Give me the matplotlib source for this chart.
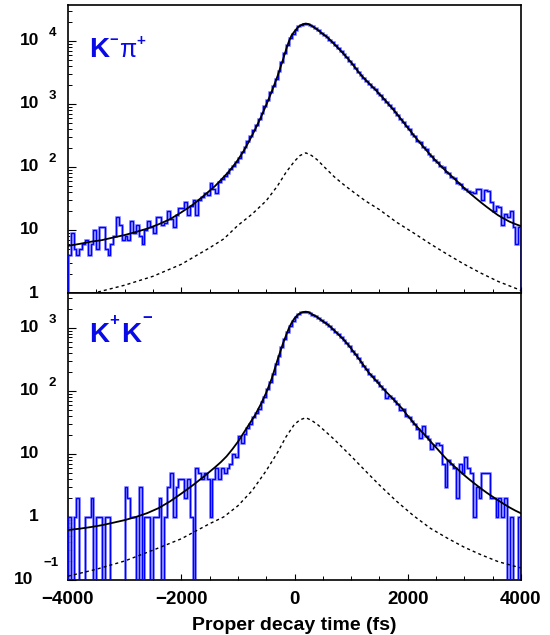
import numpy as np
import matplotlib
matplotlib.use("Agg")
import matplotlib.pyplot as plt
from matplotlib import transforms
from matplotlib.ticker import FixedLocator, LogLocator, NullFormatter

plt.rcParams['font.family'] = ['Liberation Sans', 'DejaVu Sans']

# ---------------- data ----------------
T_MIN, T_MAX, N_BINS = -4000, 4000, 160

kpi_counts = [
    4, 9, 5, 4, 5, 6, 7, 4, 6, 10,
    5, 11, 11, 5, 4, 6, 8, 16, 12, 7,
    8, 7, 14, 9, 12, 8, 6, 10, 14, 11,
    9, 16, 16, 12, 13, 20, 15, 11, 17, 22,
    22, 28, 17, 24, 30, 17, 30, 33, 38, 36,
    56, 45, 38, 57, 65, 73, 80, 93, 104, 120,
    137, 172, 208, 260, 314, 392, 465, 580, 705, 915,
    1170, 1515, 1900, 2460, 3300, 4690, 6450, 8700, 10950, 12900,
    15100, 17000, 18150, 18700, 18600, 17800, 16950, 15700, 14600, 13500,
    12300, 11450, 10480, 9420, 8520, 7650, 6850, 6080, 5440, 4830,
    4280, 3710, 3250, 2870, 2580, 2280, 2100, 1850, 1690, 1500,
    1360, 1210, 1090, 950, 860, 740, 670, 575, 515, 440,
    395, 338, 308, 262, 245, 205, 190, 160, 150, 128,
    121, 103, 98, 84, 80, 69, 66, 56, 54, 47,
    44, 42, 40, 39, 45, 44, 30, 43, 42, 28,
    20, 24, 23, 12, 18, 16, 20, 11, 6, 11,
]

kk_counts = [
    1, 0, 1, 2, 0, 0, 1, 1, 2, 0,
    1, 1, 0, 1, 1, 0, 0, 0, 0, 0,
    3, 2, 1, 1, 0, 3, 0, 1, 1, 0,
    1, 1, 2, 0, 1, 3, 5, 1, 3, 4,
    4, 2, 4, 1, 0, 6, 5, 4, 5, 4,
    1, 4, 6, 4, 6, 5, 6, 7, 10, 9,
    19, 15, 21, 26, 30, 38, 45, 52, 66, 80,
    106, 140, 184, 262, 360, 492, 655, 855, 1065, 1295,
    1475, 1640, 1745, 1785, 1775, 1705, 1595, 1515, 1425, 1330,
    1215, 1140, 1045, 960, 865, 790, 700, 640, 565, 505,
    432, 385, 328, 290, 246, 222, 186, 170, 148, 136,
    117, 108, 78, 82, 77, 70, 61, 50, 51, 40,
    38, 33, 30, 25, 18, 28, 19, 17, 12, 14,
    15, 14, 7, 3, 8, 7, 6, 2, 7, 5,
    9, 6, 5, 1, 3, 2, 5, 5, 5, 2,
    2, 1, 2, 1, 2, 0, 1, 0, 0, 1,
]

fit_t_kpi = [-4000, -3800, -3600, -3400, -3200, -3000, -2800, -2600, -2400, -2200,
             -2000, -1800, -1600, -1400, -1300, -1200, -1100, -1000, -900, -800,
             -700, -600, -500, -400, -300, -200, -150, -100, -50, 0,
             50, 100, 150, 200, 250, 300, 400, 500, 600, 700,
             800, 900, 1000, 1100, 1200, 1300, 1400, 1500, 1600, 1700,
             1800, 1900, 2000, 2100, 2200, 2300, 2400, 2500, 2600, 2700,
             2800, 2900, 3000, 3100, 3200, 3300, 3400, 3500, 3600, 3700,
             3800, 3900, 4000]
fit_kpi = [5.6, 6.0, 6.5, 6.9, 7.6, 8.3, 9.3, 10.5, 12.3, 14.8,
           19, 25, 35, 50, 62, 77, 98, 129, 178, 257,
           385, 596, 955, 1585, 2750, 5130, 7200, 9770, 12300, 14100,
           16000, 17500, 18400, 18800, 18400, 17400, 15100, 12900, 11000, 8900,
           7200, 5750, 4570, 3470, 2700, 2190, 1780, 1430, 1150, 900,
           710, 545, 417, 324, 251, 197, 155, 124, 100, 82,
           68, 56, 46, 38, 32, 27, 23, 19.7, 17, 15.1,
           13.5, 12.4, 11.5]

bkg_t_kpi = [-4000, -3500, -3000, -2500, -2000, -1500, -1250, -1000, -750, -500,
             -300, -150, 0, 100, 200, 300, 400, 550, 700, 850,
             1000, 1250, 1500, 1800, 2100, 2400, 2700, 3000, 3300, 3600, 4000]
bkg_kpi = [0.82, 1.02, 1.33, 1.84, 2.85, 5.2, 7.2, 11.8, 17.8, 29,
           50, 82, 123, 152, 167, 152, 130, 95, 70, 54,
           42.5, 29, 21, 13.3, 9, 6, 4.1, 2.85, 2.05, 1.52, 1.1]

fit_t_kk = [-4000, -3800, -3600, -3400, -3200, -3000, -2800, -2600, -2400, -2200,
            -2000, -1800, -1600, -1400, -1300, -1200, -1100, -1000, -900, -800,
            -700, -600, -500, -400, -300, -200, -100, -50, 0, 50,
            100, 150, 200, 250, 300, 400, 500, 600, 700, 800,
            900, 1000, 1100, 1200, 1300, 1400, 1500, 1600, 1700, 1800,
            1900, 2000, 2100, 2200, 2300, 2400, 2500, 2600, 2700, 2800,
            2900, 3000, 3100, 3200, 3300, 3400, 3500, 3600, 3700, 3800,
            3900, 4000]
fit_kk = [0.62, 0.65, 0.69, 0.74, 0.81, 0.89, 1.0, 1.15, 1.38, 1.76,
          2.34, 3.16, 4.37, 6.17, 7.41, 9.12, 11.75, 15.5, 21.4, 29.5,
          40.7, 60, 93, 158, 309, 575, 980, 1200, 1410, 1580,
          1700, 1770, 1795, 1760, 1660, 1480, 1260, 1100, 912, 741,
          603, 468, 355, 269, 200, 158, 126, 100, 81, 65,
          52.5, 40, 31.3, 24.8, 20, 15.8, 12.6, 10, 8.0, 6.6,
          5.5, 4.57, 3.85, 3.27, 2.79, 2.4, 2.09, 1.82, 1.6, 1.41,
          1.26, 1.14]

bkg_t_kk = [-4000, -3500, -3000, -2500, -2000, -1500, -1250, -1000, -750, -500,
            -300, -150, 0, 100, 200, 300, 400, 550, 700, 850,
            1000, 1250, 1500, 1800, 2100, 2400, 2700, 3000, 3300, 3600, 4000]
bkg_kk = [0.115, 0.148, 0.2, 0.297, 0.45, 0.78, 1.0, 1.5, 2.6, 5.4,
          10.5, 18.6, 29.5, 34.7, 37.4, 34, 29.5, 22.5, 17, 12.5,
          9.2, 5.4, 3.2, 1.78, 1.05, 0.66, 0.46, 0.33, 0.25, 0.195, 0.155]

x_major = [-4000, -2000, 0, 2000, 4000]
x_major_labels = ['\u22124000', '\u22122000', '0', '2000', '4000']
x_minor = [-3500, -3000, -2500, -1500, -1000, -500, 500, 1000, 1500, 2500, 3000, 3500]

y_top_lim = (1, 3.7e4)
y_bot_lim = (0.1, 3550)
y_top_decades = [1, 10, 100, 1000, 10000]
y_top_labels = [('1', ''), ('10', ''), ('10', '2'), ('10', '3'), ('10', '4')]
y_bot_decades = [0.1, 1, 10, 100, 1000]
y_bot_labels = [('10', '\u22121'), ('1', ''), ('10', ''), ('10', '2'), ('10', '3')]

xlabel = 'Proper decay time (fs)'

# ---------------- figure ----------------
W, H = 550, 635
fig = plt.figure(figsize=(W / 100, H / 100), dpi=100)


def rect(l, t, r, b):
    return [l / W, 1 - b / H, (r - l) / W, (b - t) / H]


ax1 = fig.add_axes(rect(68, 5, 521, 293))
ax2 = fig.add_axes(rect(68, 293, 521, 580))

edges = np.linspace(T_MIN, T_MAX, N_BINS + 1)
BLUE = '#0000ff'
TXT_BLUE = '#0a0ae6'

panels = [
    (ax1, kpi_counts, fit_t_kpi, fit_kpi, bkg_t_kpi, bkg_kpi, y_top_lim, y_top_decades, y_top_labels),
    (ax2, kk_counts, fit_t_kk, fit_kk, bkg_t_kk, bkg_kk, y_bot_lim, y_bot_decades, y_bot_labels),
]

for ax, counts, ft, fv, bt, bv, ylim, decs, labs in panels:
    ax.set_yscale('log', nonpositive='clip')
    ax.set_xlim(T_MIN, T_MAX)
    ax.set_ylim(*ylim)
    ax.stairs(counts, edges, baseline=1e-4, color='#9a9aff', lw=2.0, zorder=2)
    ax.stairs(counts, edges, baseline=1e-4, color=BLUE, lw=1.0, zorder=3)
    ax.plot(bt, bv, color='black', lw=1.0, linestyle=(0, (2.2, 2.2)), zorder=4)
    ax.plot(ft, fv, color='black', lw=1.3, zorder=5)

    for s in ax.spines.values():
        s.set_linewidth(1.2)
        s.set_color('black')

    ax.xaxis.set_major_locator(FixedLocator(x_major))
    ax.xaxis.set_minor_locator(FixedLocator(x_minor))
    ax.yaxis.set_major_locator(FixedLocator(decs))
    ax.yaxis.set_minor_locator(LogLocator(base=10, subs=range(2, 10), numticks=20))
    ax.yaxis.set_major_formatter(NullFormatter())
    ax.yaxis.set_minor_formatter(NullFormatter())
    ax.tick_params(axis='y', which='major', direction='in', length=6, width=0.8,
                   left=True, right=False, labelleft=False)
    ax.tick_params(axis='y', which='minor', direction='in', length=3.2, width=0.7,
                   left=True, right=False)
    ax.tick_params(axis='x', which='major', direction='in', length=4.5, width=0.8,
                   top=False, bottom=True)
    ax.tick_params(axis='x', which='minor', direction='in', length=2.8, width=0.7,
                   top=False, bottom=True)

    # y tick labels drawn ROOT-style: "10" with detached superscript
    ytr = ax.get_yaxis_transform()
    for val, (base, exp) in zip(decs, labs):
        if exp == '':
            ax.text(-0.064, val, base, transform=ytr, ha='right', va='center',
                    fontsize=12.5, fontweight='bold', clip_on=False)
        elif exp.startswith('\u2212'):
            ax.text(-0.077, val, base, transform=ytr, ha='right', va='center',
                    fontsize=12.5, fontweight='bold', clip_on=False)
            sup_tr = transforms.offset_copy(ytr, fig=fig, x=0, y=17, units='dots')
            ax.text(-0.055, val, exp, transform=sup_tr, ha='left', va='center',
                    fontsize=9.5, fontweight='bold', clip_on=False)
        else:
            ax.text(-0.064, val, base, transform=ytr, ha='right', va='center',
                    fontsize=12.5, fontweight='bold', clip_on=False)
            sup_tr = transforms.offset_copy(ytr, fig=fig, x=0, y=8, units='dots')
            ax.text(-0.043, val, exp, transform=sup_tr, ha='left', va='center',
                    fontsize=9.5, fontweight='bold', clip_on=False)

ax1.tick_params(axis='x', which='both', labelbottom=False)
ax2.set_xticks(x_major)
ax2.set_xticklabels(x_major_labels, fontsize=13.5, fontweight='bold')
ax2.tick_params(axis='x', which='major', pad=8)
ax2.set_xlabel(xlabel, fontsize=14, fontweight='bold', labelpad=6.5)


# panel labels (positions given in reference pixels, converted to axes fraction)
def px_axes(top, bottom, xpx, ypx):
    return ((xpx - 68) / 453.0, (bottom - ypx) / (bottom - top))


def put(ax, top, bottom, xpx, ypx, s, size, bold, va):
    x, y = px_axes(top, bottom, xpx, ypx)
    ax.text(x, y, s, transform=ax.transAxes, fontsize=size,
            fontweight='bold' if bold else 'normal', color=TXT_BLUE, va=va, ha='left')


put(ax1, 5, 293, 89, 57, 'K', 20, True, 'baseline')
put(ax1, 5, 293, 109, 40, '\u2212', 10.5, True, 'center')
put(ax1, 5, 293, 119.5, 57, '\u03c0', 18, False, 'baseline')
put(ax1, 5, 293, 136.5, 41, '+', 11, True, 'center')

put(ax2, 293, 580, 89, 342, 'K', 20, True, 'baseline')
put(ax2, 293, 580, 109.5, 321, '+', 12, True, 'center')
put(ax2, 293, 580, 121, 342, 'K', 20, True, 'baseline')
put(ax2, 293, 580, 142, 319, '\u2212', 12, True, 'center')

fig.savefig('out.png', dpi=100)
